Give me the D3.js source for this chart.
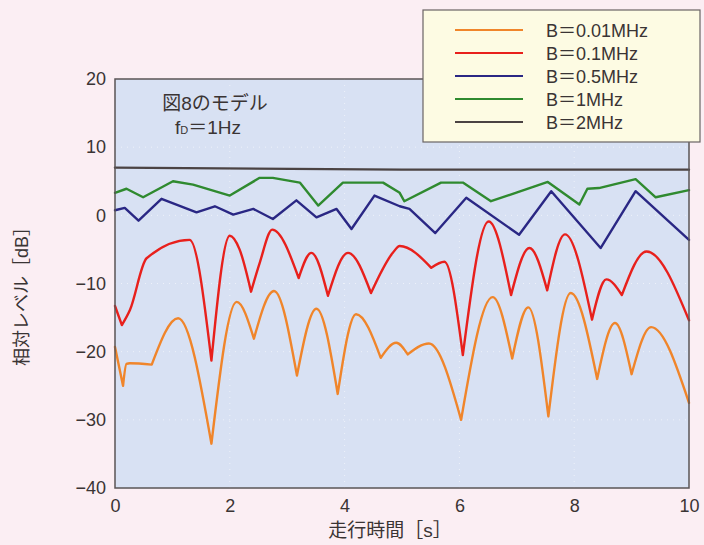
<!DOCTYPE html>
<html>
<head>
<meta charset="utf-8">
<script src="https://cdn.jsdelivr.net/npm/d3@7"></script>
<style>
  body { margin: 0; background: #fbeef3; }
  svg { display: block; }
  text { font-family: "Liberation Sans", Arial, "Noto Sans CJK JP", sans-serif; fill: #3a3434; }
</style>
</head>
<body>
<div id="chart"></div>
<script>
// time axis [s] and level [dB]
const t001 = [0, 0.14, 0.2, 0.26, 0.64, 1.1, 1.68, 2.12, 2.42, 2.77, 3.17, 3.51, 3.88, 4.2, 4.63, 4.9, 5.1, 5.47, 6.03, 6.58, 6.92, 7.2, 7.55, 7.94, 8.4, 8.71, 9.0, 9.34, 10]
const v001 = [-19.3, -25.0, -21.8, -21.7, -21.9, -15.1, -33.5, -12.7, -18.1, -11.1, -23.5, -13.7, -26.2, -14.5, -20.9, -18.7, -20.4, -18.8, -30.0, -12.0, -21.0, -13.5, -29.5, -11.4, -24.0, -15.8, -23.3, -16.4, -27.5]

const t01 = [0, 0.12, 0.26, 0.55, 1.3, 1.68, 2.0, 2.17, 2.37, 2.52, 2.74, 3.2, 3.42, 3.71, 4.06, 4.46, 4.84, 4.96, 5.51, 5.74, 6.06, 6.51, 6.9, 7.22, 7.53, 7.84, 8.31, 8.56, 8.83, 9.26, 10]
const v01 = [-13.3, -16.1, -13.9, -6.3, -3.6, -21.3, -3.0, -5.0, -11.2, -7.0, -2.1, -9.2, -5.5, -11.8, -5.5, -11.4, -5.5, -4.5, -7.7, -6.8, -20.5, -0.9, -11.7, -4.8, -11.0, -2.8, -15.3, -9.4, -11.7, -5.3, -15.4]

const t05 = [0, 0.17, 0.41, 0.81, 1.42, 1.74, 2.06, 2.41, 2.75, 3.16, 3.51, 3.86, 4.12, 4.52, 4.96, 5.13, 5.58, 6.12, 7.04, 7.6, 8.46, 9.07, 10]
const v05 = [0.74, 1.09, -0.78, 2.42, 0.44, 1.33, 0.1, 0.94, -0.53, 2.2, -0.3, 0.94, -2.0, 2.9, 1.33, 0.94, -2.6, 2.57, -2.85, 3.54, -4.8, 3.54, -3.6]

const t1 = [0, 0.2, 0.49, 1.01, 1.36, 2.0, 2.52, 2.75, 3.22, 3.54, 3.97, 4.67, 4.96, 5.04, 5.68, 6.06, 6.55, 7.54, 8.09, 8.23, 8.43, 9.07, 9.42, 10]
const v1 = [3.3, 3.9, 2.65, 5.0, 4.5, 2.9, 5.5, 5.5, 4.8, 1.43, 4.8, 4.8, 3.3, 2.07, 4.8, 4.8, 2.07, 4.9, 1.58, 3.9, 4.0, 5.3, 2.65, 3.7]

const t2 = [0, 5, 10]
const v2 = [7.0, 6.7, 6.7]

const xTicks = [0, 2, 4, 6, 8, 10]
const yTicks = [-40, -30, -20, -10, 0, 10, 20]

const seriesNames = ['B＝0.01MHz', 'B＝0.1MHz', 'B＝0.5MHz', 'B＝1MHz', 'B＝2MHz']
const seriesColors = ['#f0852a', '#e8201c', '#2a2784', '#2f8a2f', '#4b4343']

const series = [
  {name: seriesNames[0], color: seriesColors[0], t: t001, v: v001, smooth: true},
  {name: seriesNames[1], color: seriesColors[1], t: t01, v: v01, smooth: true},
  {name: seriesNames[2], color: seriesColors[2], t: t05, v: v05, smooth: false},
  {name: seriesNames[3], color: seriesColors[3], t: t1, v: v1, smooth: false},
  {name: seriesNames[4], color: seriesColors[4], t: t2, v: v2, smooth: false},
]

const canvasWidth = 704
const canvasHeight = 545
const plot = {left: 115, right: 689, top: 79, bottom: 488}

const xScale = d3.scaleLinear().domain([0, 10]).range([plot.left, plot.right])
const yScale = d3.scaleLinear().domain([-40, 20]).range([plot.bottom, plot.top])

const svg = d3.select('#chart')
  .append('svg')
  .attr('width', canvasWidth)
  .attr('height', canvasHeight)

svg.append('rect')
  .attr('width', canvasWidth)
  .attr('height', canvasHeight)
  .attr('fill', '#fbeef3')

svg.append('rect')
  .attr('x', plot.left)
  .attr('y', plot.top)
  .attr('width', plot.right - plot.left)
  .attr('height', plot.bottom - plot.top)
  .attr('fill', '#d8e1f3')

// faint dotted grid
const grid = svg.append('g')
  .attr('stroke', '#ffffff')
  .attr('stroke-opacity', 0.55)
  .attr('stroke-dasharray', '1,5')
grid.selectAll('line.h')
  .data(yTicks.slice(1, -1))
  .enter()
  .append('line')
  .attr('x1', plot.left)
  .attr('x2', plot.right)
  .attr('y1', d => yScale(d))
  .attr('y2', d => yScale(d))
grid.selectAll('line.v')
  .data(xTicks.slice(1, -1))
  .enter()
  .append('line')
  .attr('y1', plot.top)
  .attr('y2', plot.bottom)
  .attr('x1', d => xScale(d))
  .attr('x2', d => xScale(d))

// sharp dips, rounded peaks: split at local minima and smooth each piece
const lineSmooth = d3.line().curve(d3.curveMonotoneX)
const lineStraight = d3.line()

const pathFor = s => {
  const pts = s.t.map((t, i) => [xScale(t), yScale(s.v[i])])
  if (!s.smooth) return lineStraight(pts)
  const segs = []
  let cur = [pts[0]]
  for (let i = 1; i < pts.length; i++) {
    cur.push(pts[i])
    if (i < pts.length - 1 && s.v[i] < s.v[i - 1] && s.v[i] < s.v[i + 1]) {
      segs.push(cur)
      cur = [pts[i]]
    }
  }
  segs.push(cur)
  return segs
    .map((sg, k) => {
      const d = lineSmooth(sg)
      return k ? d.replace(/^M/, 'L') : d
    })
    .join('')
}

svg.append('g')
  .selectAll('path')
  .data(series.slice().reverse())
  .enter()
  .append('path')
  .attr('d', d => pathFor(d))
  .attr('fill', 'none')
  .attr('stroke', d => d.color)
  .attr('stroke-width', 2.4)
  .attr('stroke-linejoin', 'round')
  .attr('stroke-linecap', 'round')

// frame
svg.append('rect')
  .attr('x', plot.left)
  .attr('y', plot.top)
  .attr('width', plot.right - plot.left)
  .attr('height', plot.bottom - plot.top)
  .attr('fill', 'none')
  .attr('stroke', '#5a5456')
  .attr('stroke-width', 1.5)

const fmt = d => (d < 0 ? '\u2212' + Math.abs(d) : String(d))

const xAxis = svg.append('g')
  .attr('transform', `translate(0, ${plot.bottom})`)
  .call(d3.axisBottom(xScale).tickValues(xTicks).tickSize(0).tickPadding(11).tickFormat(fmt))
const yAxis = svg.append('g')
  .attr('transform', `translate(${plot.left}, 0)`)
  .call(d3.axisLeft(yScale).tickValues(yTicks).tickSize(0).tickPadding(9).tickFormat(fmt))

;[xAxis, yAxis].forEach(ax => {
  ax.select('.domain').remove()
  ax.selectAll('text')
    .attr('font-size', 18)
    .attr('font-family', '"Liberation Sans", Arial, sans-serif')
    .style('fill', '#3a3434')
})

svg.append('text')
  .attr('x', 390)
  .attr('y', 537)
  .attr('font-size', 19)
  .attr('text-anchor', 'middle')
  .text('走行時間［s］')

svg.append('text')
  .attr('transform', `translate(28, 292) rotate(-90)`)
  .attr('font-size', 18)
  .attr('text-anchor', 'middle')
  .text('相対レベル［dB］')

// model note
svg.append('text')
  .attr('x', 215)
  .attr('y', 110)
  .attr('font-size', 19)
  .attr('text-anchor', 'middle')
  .text('図8のモデル')

const note = svg.append('text')
  .attr('x', 208)
  .attr('y', 134)
  .attr('font-size', 19)
  .attr('text-anchor', 'middle')
note.append('tspan').text('f')
note.append('tspan').attr('font-size', 11).text('D')
note.append('tspan').text('＝1Hz')

// legend
const legend = svg.append('g').attr('transform', 'translate(423, 10)')
legend.append('rect')
  .attr('width', 277)
  .attr('height', 132)
  .attr('fill', '#fdfbe3')
  .attr('stroke', '#6a6464')
  .attr('stroke-width', 1.2)

const items = legend.selectAll('g.item')
  .data(series)
  .enter()
  .append('g')
  .attr('transform', (d, i) => `translate(0, ${20 + i * 23})`)
items.append('line')
  .attr('x1', 32)
  .attr('x2', 100)
  .attr('stroke', d => d.color)
  .attr('stroke-width', 2.2)
items.append('text')
  .attr('x', 123)
  .attr('y', 7)
  .attr('font-size', 18)
  .text(d => d.name)
</script>
</body>
</html>
